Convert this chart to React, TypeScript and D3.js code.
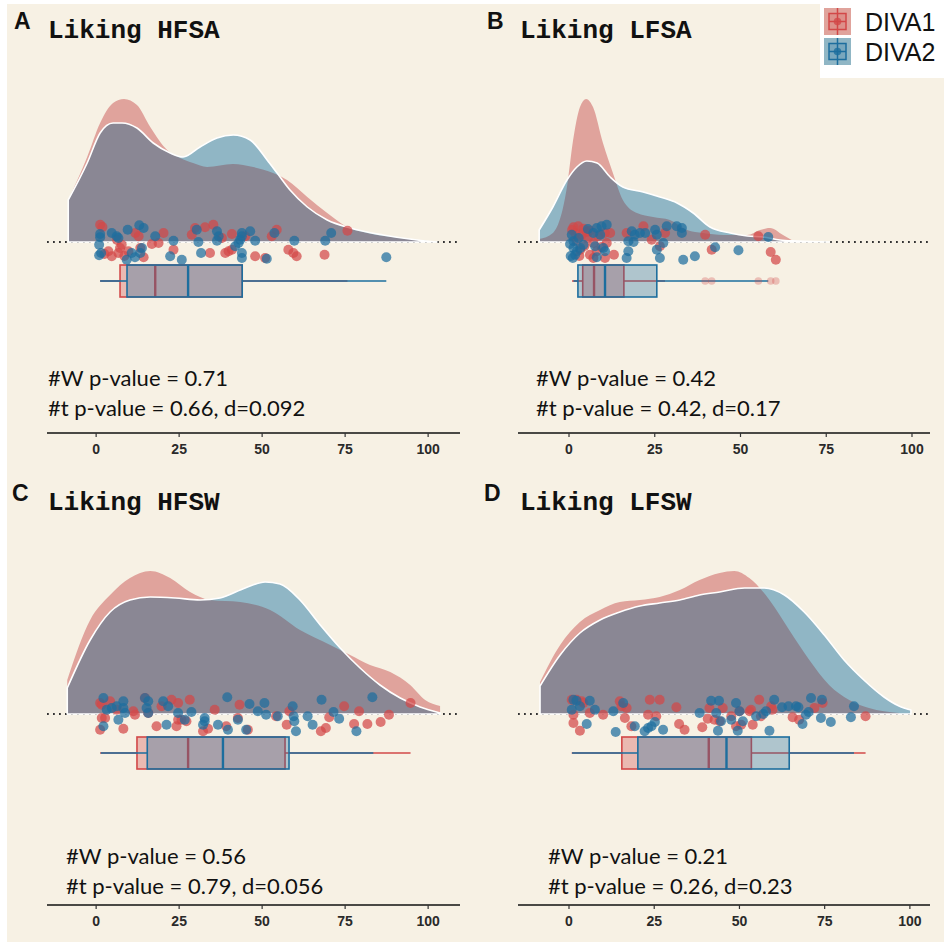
import React from 'react';
import * as d3 from 'd3';

// ---------- data ----------
const panelLetters = ['A', 'B', 'C', 'D'];
const panelTitles = ['Liking HFSA', 'Liking LFSA', 'Liking HFSW', 'Liking LFSW'];
const groups = ['DIVA1', 'DIVA2'];
const wilcoxP = ['0.71', '0.42', '0.56', '0.21'];
const tTestP = ['0.66', '0.42', '0.79', '0.26'];
const cohenD = ['0.092', '0.17', '0.056', '0.23'];
const xTicks = [0, 25, 50, 75, 100];

// densities: [score, density]
const densA1 = [[-8.4, 0.042], [-2.7, 0.085], [1.2, 0.119], [5.1, 0.139], [8.4, 0.143], [12.3, 0.137], [16.3, 0.115], [21.4, 0.092], [25.3, 0.084], [29.2, 0.079], [33.4, 0.075], [41.2, 0.078], [47.3, 0.075], [53.3, 0.069], [57.5, 0.062], [63.6, 0.045], [69.6, 0.029], [75.6, 0.015], [81.6, 0.009], [91.6, 0.004], [101.5, 0]];
const densA2 = [[-8.4, 0.042], [-2.7, 0.079], [1.2, 0.109], [5.1, 0.119], [7.8, 0.119], [12.3, 0.114], [17.2, 0.099], [22.3, 0.089], [26.2, 0.085], [31.3, 0.095], [36.4, 0.104], [41.3, 0.107], [46.4, 0.102], [51.5, 0.082], [54.5, 0.069], [58.4, 0.052], [63.6, 0.035], [69.6, 0.022], [76.5, 0.014], [86.4, 0.007], [96.7, 0.002], [102.7, 0]];
const densB1 = [[-8.7, 0.003], [-4.7, 0.009], [-0.6, 0.055], [1.2, 0.102], [3.2, 0.135], [5.0, 0.143], [7.0, 0.135], [9.9, 0.099], [12.8, 0.069], [15.7, 0.042], [19.8, 0.029], [24.5, 0.025], [29.4, 0.022], [34.4, 0.012], [39.1, 0.009], [45, 0.007], [52, 0.007], [55.7, 0.012], [58.6, 0.014], [62.4, 0.007], [65.9, 0]];
const densB2 = [[-8.7, 0.012], [-4.7, 0.035], [-0.6, 0.062], [2.3, 0.075], [5.2, 0.081], [8.2, 0.079], [12, 0.065], [15.7, 0.055], [21.6, 0.05], [26.5, 0.045], [31.5, 0.039], [36.2, 0.029], [41.1, 0.015], [47, 0.009], [52, 0.006], [56.6, 0.005], [61.5, 0.002], [66.5, 0.001], [76, 0]];
const densC1 = [[-8.7, 0.034], [-1.8, 0.094], [4.2, 0.119], [10.2, 0.136], [16.3, 0.143], [22.3, 0.136], [28.3, 0.122], [34.3, 0.114], [43.4, 0.112], [52.4, 0.104], [61.4, 0.084], [70.5, 0.069], [76.5, 0.059], [82.5, 0.049], [88.6, 0.042], [94.6, 0.029], [99.1, 0.014], [103.6, 0.008]];
const densC2 = [[-8.7, 0.026], [-1.8, 0.074], [4.2, 0.102], [10.2, 0.114], [16.3, 0.117], [23.8, 0.116], [31.3, 0.114], [37.3, 0.116], [44.9, 0.126], [50.9, 0.132], [55.4, 0.13], [61.4, 0.114], [67.5, 0.089], [73.5, 0.066], [79.5, 0.046], [85.5, 0.029], [91.6, 0.016], [97.6, 0.007], [103.6, 0.001]];
const densD1 = [[-8.5, 0.032], [-2.6, 0.069], [3.2, 0.092], [9.1, 0.104], [14.9, 0.112], [20.8, 0.114], [26.6, 0.117], [32.5, 0.124], [38.3, 0.134], [44.2, 0.141], [48.5, 0.143], [52.9, 0.136], [58.8, 0.114], [64.6, 0.084], [70.5, 0.054], [76.3, 0.029], [82.2, 0.014], [88, 0.006], [96.8, 0.001]];
const densD2 = [[-8.5, 0.028], [-2.6, 0.059], [3.2, 0.081], [9.1, 0.094], [14.9, 0.102], [20.8, 0.108], [26.6, 0.111], [32.5, 0.114], [38.3, 0.119], [44.2, 0.122], [51.5, 0.126], [57.3, 0.126], [63.2, 0.119], [69, 0.102], [74.9, 0.079], [80.7, 0.054], [86.5, 0.034], [92.4, 0.017], [96.8, 0.008], [100.3, 0.004]];

// raw scores with their jitter: [score, jitter]
const ptsA1 = [[1.2, -19.3], [1.9, -17], [3.7, 7.3], [4.7, 12.3], [6.7, 9], [7.2, 4], [7.7, 0.7], [9.7, 7.3], [11.8, -11], [12.8, -7.7], [13.3, 4], [14.3, 13.3], [16.8, 0], [18.8, -1], [20.3, -11], [23.3, 5.7], [28.8, -9.3], [29.8, -16], [32.8, -16.7], [35.3, -19.3], [34.3, 9], [37.9, -6], [38.9, 9], [39.9, 7.3], [40.9, 5.7], [40.9, -10], [44.9, -7.7], [47.9, 12.3], [50.9, 14], [52.9, -7.7], [54.4, -14.3], [57.9, 5.7], [59.4, 9], [60.4, 12.3], [68.8, 10.7], [75.7, -13.3], [6.3, -4], [2.5, 10], [8.5, 12]];
const ptsA2 = [[1.2, -10], [1.2, -6.7], [0.9, 0.7], [1.5, 9], [0.9, 11.3], [4.7, -11], [6.2, -7.7], [6.7, -6], [9.5, -14.3], [13.0, -18.7], [14.3, -16], [17.8, -7.7], [10.7, 9], [11.7, 13.3], [9.2, 15.7], [13.3, 9], [13.8, 4], [23.3, -3.3], [22.3, 12.3], [25.8, 15.7], [30.3, -14.3], [30.8, -2], [31.6, 9], [36.4, -12.7], [36.9, -7.7], [36.4, -3.3], [41.9, 2.3], [42.9, -1], [43.4, -4.3], [43.9, -7.7], [43.9, -11], [43.9, 9], [43.9, 14], [46.4, -12.7], [47.9, -3.3], [51.4, 14.7], [53.7, -11], [59.7, -3.3], [69.0, -3.3], [70.8, -11], [87.4, 13.3]];
const ptsB1 = [[1.3, -16.7], [2.7, -17.7], [4.2, -15.3], [5.2, -12], [6.1, -13.3], [3.7, -9.3], [10.5, -11], [12, -11], [7.1, -1], [8.1, 7.3], [11, -1], [7.1, 14], [10.5, 14], [13.1, 10.7], [16.8, -11], [21.7, -17.7], [24.1, -4.3], [26.5, 2.3], [28, -11], [39.7, -9.3], [41.6, 5.7], [55.2, -7.7], [58.8, 8], [60.3, 15.7], [1.8, -11], [5.5, -6], [3.3, 5.7], [6.1, 10.7], [2.2, -3], [4.5, 2], [0.9, -14], [3, 12], [8.5, -8], [9.5, 3]];
const ptsB2 = [[0.8, -9.3], [1.3, -2.7], [1.3, 4], [1.8, 10.7], [1.1, 14], [2.3, 7.3], [3.3, 4], [4.2, 0.7], [7.1, -11], [8.1, -16], [9.5, -17.7], [11, -19.3], [9.1, -9.3], [7.6, 2.3], [10, 4], [10.5, 7.3], [8.1, 13.3], [18.3, -12.7], [19.2, -9.3], [20.7, -11], [22.2, -11], [25.1, -14.3], [25.6, -9.3], [25.6, 5.7], [27.5, -1], [28.5, -17.7], [31.4, -17.7], [32.9, -16], [32.9, -11], [17.3, -2.7], [18.8, -2], [17.3, 7.3], [16.8, 14], [26.5, 14], [33.3, 15.7], [36.7, 12.3], [42.6, 3.3], [49.4, 6.3], [58.1, -7], [0.5, 12], [2.8, -6], [5.5, -15], [0.3, 0]];
const ptsC1 = [[1.2, -13], [1.7, -11.3], [4.2, -14.7], [6.2, -6.3], [1.7, 2], [2.7, 2], [1.2, 13.7], [8.2, 12.7], [11.2, -4.7], [11.7, -1.3], [14.7, -18], [15.7, -3], [18.2, 10.3], [19.7, -9.7], [22.7, -16.3], [24.2, 10.3], [24.7, -13], [24.7, 3.7], [25.7, 3.7], [27.2, 5.3], [28.2, -16.3], [32.2, 15.3], [33.7, 12.7], [35.7, -6.3], [39.2, 10.3], [42.7, 2], [43.2, -11.3], [45.7, 13.7], [54.2, 0.3], [57.4, 8.7], [58.2, -4.7], [67.7, 15.3], [69.2, 12], [70.2, 1.3], [74.7, -9.7], [77.7, 8], [79.2, -4.7], [81.7, 8], [85.7, 6], [88.2, -1.3], [94.7, -13]];
const ptsC2 = [[2.2, -18], [2.2, 10.3], [3.2, -6.3], [4.7, -8], [6.2, -9.7], [6.7, 3.7], [8.2, -14.7], [8.2, -8], [8.7, -3], [14.7, -18], [15.7, -14.7], [15.2, -8], [15.7, -3], [20.2, -14.7], [21.2, 8.7], [21.7, -9.7], [24.7, -3], [26.7, 3.7], [28.7, -4], [32.2, 8.7], [32.7, 2], [32.7, 5.3], [36.7, 8.7], [39.7, 13.7], [39.5, -18.7], [42.7, 3.7], [45.2, 13.7], [46.2, -12], [48.7, -4.7], [50.7, -13], [51.2, -1.3], [54.7, 0.3], [59.2, -9.7], [59.5, 0.3], [59.7, 5.3], [60.2, 15.3], [63.7, 0.3], [65.2, 8.7], [67.9, -16.3], [71.5, -4], [73.2, 2.7], [78.4, 15.3], [83.2, -18.7]];
const ptsD1 = [[0.8, -16.3], [2.2, -16.3], [3.7, -14.7], [4.2, -13], [1.3, -1.3], [1.3, 7], [3.2, 14.7], [6.1, -3], [10.0, -1.3], [14.9, -14.7], [15.4, -9.7], [16.9, -8], [16.4, 2], [18.3, 10.3], [23.2, -1.3], [23.7, -16.3], [25.6, 0.3], [26.6, -16.3], [31.5, -8.7], [32.3, 8], [33.9, 13.7], [39.1, 11.3], [40.7, 2.7], [41.2, -8], [42.7, 3.7], [44.2, 5.3], [45.1, -8], [47.6, 0.3], [49.0, 10.3], [50.0, -4.7], [50.5, 8.7], [53.0, -4.7], [53.4, -6.3], [53.9, 8.7], [55.8, -16.3], [56.3, 0.3], [59.3, -9.7], [59.7, -6.3], [65.6, 1.3], [67.5, 3.7], [72.0, -8], [74.4, -13], [87.0, 0.3]];
const ptsD2 = [[1.3, -16.3], [2.2, -15.3], [3.2, -9.7], [0.8, -6.3], [6.1, -15.3], [7.6, -6.3], [5.2, 8], [13.0, -4.7], [13.7, 16], [15.9, -13], [19.3, 10.3], [22.2, 15.3], [23.2, 12], [24.2, 10.3], [25.2, 6], [27.6, 13.7], [38.3, -3], [41.7, -15.3], [44.0, -15.3], [43.2, -3], [44.6, 5.3], [43.7, 14.7], [47.6, 3.7], [49.0, -13], [50.0, -4.7], [51.0, 5.3], [49.5, 14.7], [54.9, 0.3], [57.0, -2], [57.8, -4.7], [58.8, 14.7], [60.2, -16.3], [62.5, -8.7], [64.4, -9.7], [66.6, -9.7], [67.3, -8.7], [68.5, 8], [69.5, -1.3], [70.3, -4], [71.0, -18], [73.9, 2], [74.2, -16.3], [76.8, 6], [82.7, 1.3], [83.6, -9.7]];

// box stats: [lower whisker, Q1, median, Q3, upper whisker]
const boxA1 = [1.2, 7.2, 17.8, 44, 75.7];
const boxA2 = [1.2, 9.3, 27.7, 44, 87.4];
const boxB1 = [0.9, 4, 7.3, 16, 28];
const boxB2 = [1.3, 2.6, 10.5, 25.6, 58.1];
const boxC1 = [1.2, 12.3, 27.7, 56.9, 94.7];
const boxC2 = [1.4, 15.4, 38.2, 58.1, 83.5];
const boxD1 = [0.8, 15.5, 41, 53.5, 87];
const boxD2 = [0.9, 20.2, 46.2, 64.6, 83.6];
const outliersB1 = [39.7, 41.6, 55.2, 58.8, 60.3];

// ---------- assembly ----------
const DENSITIES = [[densA1, densA2], [densB1, densB2], [densC1, densC2], [densD1, densD2]];
const POINTS = [[ptsA1, ptsA2], [ptsB1, ptsB2], [ptsC1, ptsC2], [ptsD1, ptsD2]];
const BOXES = [[boxA1, boxA2], [boxB1, boxB2], [boxC1, boxC2], [boxD1, boxD2]];
const OUTLIERS = [[[], []], [outliersB1, []], [[], []], [[], []]];

const LAYOUT = [
  { domain: [-14.8, 109.6], range: [47, 460], top: 0, letterX: 14, titleX: 48, statX: 48, statY: 386 },
  { domain: [-14.87, 105.25], range: [518, 930], top: 0, letterX: 487, titleX: 520, statX: 536, statY: 386 },
  { domain: [-14.8, 109.6], range: [47, 460], top: 472, letterX: 12, titleX: 48, statX: 66, statY: 864 },
  { domain: [-14.96, 105.9], range: [518, 930], top: 472, letterX: 484, titleX: 520, statX: 548, statY: 864 },
];

const COL = {
  bg: '#F7F1E4',
  red: '#D24848',
  blue: '#1D6E9E',
  redDens: '#E0A39C',
  blueDens: '#90B6C5',
  overlap: '#8A8794',
};
const GROUP_COLORS = [COL.red, COL.blue];
const GROUP_DENS = [COL.redDens, COL.blueDens];

function Box({ s, x, cy, color }: any) {
  const [lo, q1, med, q3, hi] = s;
  const h = 16;
  return (
    <g>
      <line x1={x(lo)} x2={x(q1)} y1={cy} y2={cy} stroke={color} strokeWidth={1.6} />
      <line x1={x(q3)} x2={x(hi)} y1={cy} y2={cy} stroke={color} strokeWidth={1.6} />
      <rect x={x(q1)} y={cy - h} width={x(q3) - x(q1)} height={2 * h} fill={color} fillOpacity={0.33} stroke={color} strokeWidth={1.6} />
      <line x1={x(med)} x2={x(med)} y1={cy - h} y2={cy + h} stroke={color} strokeWidth={2.4} />
    </g>
  );
}

function Panel({ i }: { i: number }) {
  const L = LAYOUT[i];
  const x = d3.scaleLinear().domain(L.domain).range(L.range);
  const base = L.top + 242;
  const y = d3.scaleLinear().domain([0, 0.15]).range([base, base - 150]);
  const jit = d3.scaleLinear().domain([-20, 20]).range([base + 2 - 20, base + 2 + 20]);
  const area = d3
    .area<any>()
    .x((d: any) => x(d[0]))
    .y0(base)
    .y1((d: any) => y(d[1]))
    .curve(d3.curveMonotoneX);
  const [dRed, dBlue] = DENSITIES[i];
  const redPath = area(dRed as any) || '';
  const bluePath = area(dBlue as any) || '';
  const clipId = `blueclip${i}`;
  const boxC = base + 39;
  const axisY = L.top + 433;
  return (
    <g>
      <text x={L.letterX} y={L.top + 29} fontFamily="'Liberation Sans', Arial, sans-serif" fontWeight="bold" fontSize={23} fill="#111">
        {panelLetters[i]}
      </text>
      <text x={L.titleX} y={L.top + 38} fontFamily="'Liberation Mono', 'Courier New', monospace" fontWeight="bold" fontSize={26} fill="#111">
        {panelTitles[i]}
      </text>
      {/* dotted baseline */}
      <line x1={L.range[0]} x2={L.range[1]} y1={base} y2={base} stroke="#333" strokeWidth={1.8} strokeDasharray="1.8 4.2" />
      <defs>
        <clipPath id={clipId}>
          <path d={bluePath} />
        </clipPath>
      </defs>
      <path d={redPath} fill={COL.redDens} />
      <path d={bluePath} fill={COL.blueDens} />
      <path d={redPath} fill={COL.overlap} clipPath={`url(#${clipId})`} />
      <path d={bluePath} fill="none" stroke="#fff" strokeWidth={1.6} strokeLinejoin="round" />
      {/* points */}
      {POINTS[i].map((pts, g) => (
        <g key={g}>
          {pts.map((p, k) => (
            <circle key={k} cx={x(p[0])} cy={jit(p[1])} r={5} fill={GROUP_COLORS[g]} fillOpacity={0.72} />
          ))}
        </g>
      ))}
      {/* boxes */}
      {BOXES[i].map((s, g) => (
        <Box key={g} s={s} x={x} cy={boxC} color={GROUP_COLORS[g]} />
      ))}
      {OUTLIERS[i].map((o, g) => (
        <g key={g}>
          {o.map((v, k) => (
            <circle key={k} cx={x(v)} cy={boxC} r={3.8} fill={GROUP_COLORS[g]} fillOpacity={0.3} />
          ))}
        </g>
      ))}
      {/* stats */}
      <g fontFamily="Lato, 'Open Sans', sans-serif" fontSize={22} fill="#111">
        <text x={L.statX} y={L.statY}>{`#W p-value = ${wilcoxP[i]}`}</text>
        <text x={L.statX} y={L.statY + 30}>{`#t p-value = ${tTestP[i]}, d=${cohenD[i]}`}</text>
      </g>
      {/* axis */}
      <line x1={L.range[0]} x2={L.range[1]} y1={axisY} y2={axisY} stroke="#111" strokeWidth={1.5} />
      {xTicks.map((t) => (
        <g key={t}>
          <line x1={x(t)} x2={x(t)} y1={axisY} y2={axisY + 4} stroke="#333" strokeWidth={1.2} />
          <text x={x(t)} y={axisY + 21} textAnchor="middle" fontFamily="'Liberation Sans', Arial, sans-serif" fontWeight="bold" fontSize={14} fill="#2a2a2a">
            {t}
          </text>
        </g>
      ))}
    </g>
  );
}

function Legend() {
  return (
    <g>
      <rect x={820} y={0} width={124} height={78} fill="#fff" />
      {groups.map((g, k) => {
        const cy = 21.5 + 30 * k;
        const c = GROUP_COLORS[k];
        return (
          <g key={g}>
            <rect x={824} y={cy - 13.5} width={27} height={27} fill={GROUP_DENS[k]} />
            <line x1={837.5} x2={837.5} y1={cy - 13.5} y2={cy + 13.5} stroke={c} strokeWidth={1.5} />
            <rect x={829} y={cy - 8} width={17} height={16} fill={c} fillOpacity={0.2} stroke={c} strokeWidth={1.5} />
            <line x1={829} x2={846} y1={cy} y2={cy} stroke={c} strokeWidth={1.5} />
            <circle cx={837.5} cy={cy} r={3.8} fill={c} fillOpacity={0.8} />
            <text x={865} y={cy + 9.5} fontFamily="'Liberation Sans', Arial, sans-serif" fontSize={25} fill="#111">
              {g}
            </text>
          </g>
        );
      })}
    </g>
  );
}

export default function App() {
  return (
    <svg width={944} height={944} style={{ position: 'absolute', left: 0, top: 0 }}>
      <rect x={0} y={0} width={944} height={944} fill="#fff" />
      <rect x={7} y={4} width={937} height={938} fill={COL.bg} />
      {[0, 1, 2, 3].map((i) => (
        <Panel key={i} i={i} />
      ))}
      <Legend />
    </svg>
  );
}
